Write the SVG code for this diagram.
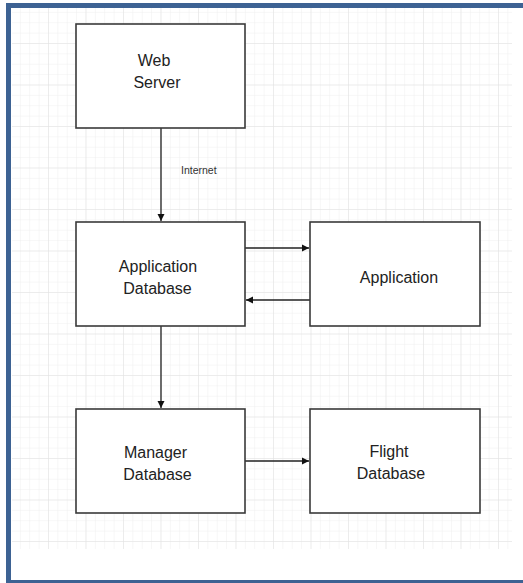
<svg xmlns="http://www.w3.org/2000/svg" width="523" height="583" viewBox="0 0 523 583">
<style>
.box{fill:#fff;stroke:#3a3a3a;stroke-width:1.6}
.lbl{font-family:"Liberation Sans",Arial,sans-serif;font-size:16px;fill:#222;text-anchor:middle}
.edge{stroke:#222;stroke-width:1.3;fill:none}
.small{font-family:"Liberation Sans",Arial,sans-serif;font-size:10.5px;fill:#333}
</style>
<defs>
<pattern id="minor" x="10.5" y="1.5" width="9.375" height="10.375" patternUnits="userSpaceOnUse">
<path d="M0 0V10.375M0 0H9.375" stroke="#efefef" stroke-width="1" fill="none"/>
</pattern>
<pattern id="major" x="10.5" y="1.5" width="37.5" height="41.5" patternUnits="userSpaceOnUse">
<path d="M0 0V41.5M0 0H37.5" stroke="#e2e2e2" stroke-width="1" fill="none"/>
</pattern>
<marker id="arr" markerWidth="8" markerHeight="8" refX="7" refY="4" orient="auto" markerUnits="userSpaceOnUse">
<path d="M0 0.5L7 4L0 7.5Z" fill="#111"/>
</marker>
</defs>
<rect x="0" y="0" width="523" height="583" fill="#fff"/>
<g id="frame">
<rect x="12" y="8" width="500" height="541" fill="url(#minor)"/>
<rect x="12" y="8" width="500" height="541" fill="url(#major)"/>
<rect x="6" y="3" width="517" height="5" fill="#3d6293"/>
<rect x="6" y="3" width="5" height="580" fill="#3d6293"/>
<rect x="6" y="580" width="517" height="3" fill="#3d6293"/>
</g>
<g id="connectors">
<line class="edge" x1="161" y1="128" x2="161" y2="221" marker-end="url(#arr)"/>
<text class="small" x="181" y="174">Internet</text>
<line class="edge" x1="245" y1="248" x2="309" y2="248" marker-end="url(#arr)"/>
<line class="edge" x1="310" y1="300" x2="246" y2="300" marker-end="url(#arr)"/>
<line class="edge" x1="161" y1="326" x2="161" y2="408" marker-end="url(#arr)"/>
<line class="edge" x1="245" y1="461" x2="309" y2="461" marker-end="url(#arr)"/>
</g>
<g id="web-server">
<rect class="box" x="76" y="24" width="169" height="104"/>
<text class="lbl" x="154" y="66">Web</text>
<text class="lbl" x="157" y="88">Server</text>
</g>
<g id="application-database">
<rect class="box" x="76" y="222" width="169" height="104"/>
<text class="lbl" x="158" y="272">Application</text>
<text class="lbl" x="157.5" y="294">Database</text>
</g>
<g id="application">
<rect class="box" x="310" y="222" width="170" height="104"/>
<text class="lbl" x="399" y="283">Application</text>
</g>
<g id="manager-database">
<rect class="box" x="76" y="409" width="169" height="104"/>
<text class="lbl" x="155.5" y="458">Manager</text>
<text class="lbl" x="157.5" y="480">Database</text>
</g>
<g id="flight-database">
<rect class="box" x="310" y="409" width="170" height="104"/>
<text class="lbl" x="389" y="457">Flight</text>
<text class="lbl" x="391" y="479">Database</text>
</g>
</svg>
